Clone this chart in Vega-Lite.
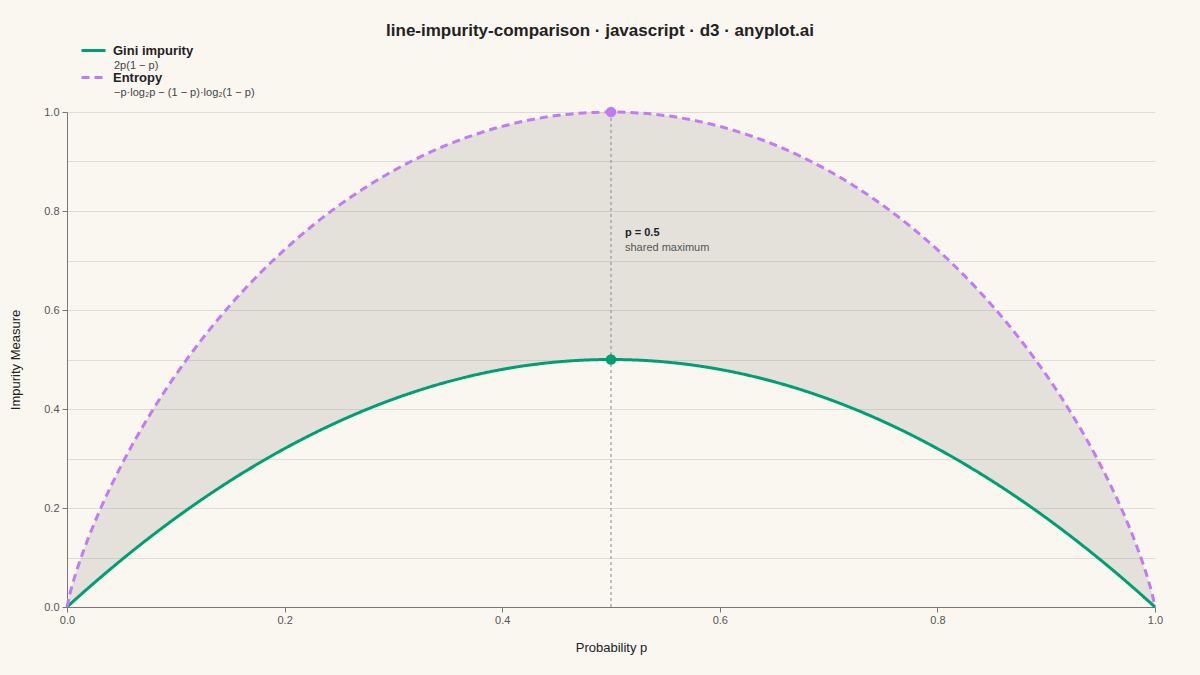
{
  "$schema": "https://vega.github.io/schema/vega-lite/v6.json",
  "width": 1088,
  "height": 495,
  "autosize": {"type": "none"},
  "padding": {"left": 67, "top": 112, "right": 45, "bottom": 68},
  "background": "#faf7f0",
  "title": {
    "text": "line-impurity-comparison · javascript · d3 · anyplot.ai",
    "anchor": "middle",
    "frame": "group",
    "dx": -11,
    "offset": -3,
    "font": "Liberation Sans",
    "fontSize": 17,
    "fontWeight": "bold",
    "color": "#222222"
  },
  "config": {
    "view": {"stroke": null},
    "font": "Liberation Sans",
    "axis": {
      "domainColor": "#777777",
      "tickColor": "#777777",
      "labelColor": "#555555",
      "labelFontSize": 11,
      "titleColor": "#222222",
      "titleFontSize": 13,
      "titleFontWeight": "normal",
      "tickSize": 5
    }
  },
  "datasets": {
    "curves": [
      {"p": 0, "Gini impurity": 0, "Entropy": 0},
      {"p": 0.0025, "Gini impurity": 0.004988, "Entropy": 0.0252},
      {"p": 0.005, "Gini impurity": 0.00995, "Entropy": 0.0454},
      {"p": 0.01, "Gini impurity": 0.0198, "Entropy": 0.0808},
      {"p": 0.02, "Gini impurity": 0.0392, "Entropy": 0.1414},
      {"p": 0.03, "Gini impurity": 0.0582, "Entropy": 0.1944},
      {"p": 0.04, "Gini impurity": 0.0768, "Entropy": 0.2423},
      {"p": 0.05, "Gini impurity": 0.095, "Entropy": 0.2864},
      {"p": 0.075, "Gini impurity": 0.13875, "Entropy": 0.3843},
      {"p": 0.1, "Gini impurity": 0.18, "Entropy": 0.469},
      {"p": 0.125, "Gini impurity": 0.21875, "Entropy": 0.5436},
      {"p": 0.15, "Gini impurity": 0.255, "Entropy": 0.6098},
      {"p": 0.175, "Gini impurity": 0.28875, "Entropy": 0.669},
      {"p": 0.2, "Gini impurity": 0.32, "Entropy": 0.7219},
      {"p": 0.225, "Gini impurity": 0.34875, "Entropy": 0.7692},
      {"p": 0.25, "Gini impurity": 0.375, "Entropy": 0.8113},
      {"p": 0.275, "Gini impurity": 0.39875, "Entropy": 0.8485},
      {"p": 0.3, "Gini impurity": 0.42, "Entropy": 0.8813},
      {"p": 0.325, "Gini impurity": 0.43875, "Entropy": 0.9097},
      {"p": 0.35, "Gini impurity": 0.455, "Entropy": 0.9341},
      {"p": 0.375, "Gini impurity": 0.46875, "Entropy": 0.9544},
      {"p": 0.4, "Gini impurity": 0.48, "Entropy": 0.971},
      {"p": 0.425, "Gini impurity": 0.48875, "Entropy": 0.9837},
      {"p": 0.45, "Gini impurity": 0.495, "Entropy": 0.9928},
      {"p": 0.475, "Gini impurity": 0.49875, "Entropy": 0.9982},
      {"p": 0.5, "Gini impurity": 0.5, "Entropy": 1},
      {"p": 0.525, "Gini impurity": 0.49875, "Entropy": 0.9982},
      {"p": 0.55, "Gini impurity": 0.495, "Entropy": 0.9928},
      {"p": 0.575, "Gini impurity": 0.48875, "Entropy": 0.9837},
      {"p": 0.6, "Gini impurity": 0.48, "Entropy": 0.971},
      {"p": 0.625, "Gini impurity": 0.46875, "Entropy": 0.9544},
      {"p": 0.65, "Gini impurity": 0.455, "Entropy": 0.9341},
      {"p": 0.675, "Gini impurity": 0.43875, "Entropy": 0.9097},
      {"p": 0.7, "Gini impurity": 0.42, "Entropy": 0.8813},
      {"p": 0.725, "Gini impurity": 0.39875, "Entropy": 0.8485},
      {"p": 0.75, "Gini impurity": 0.375, "Entropy": 0.8113},
      {"p": 0.775, "Gini impurity": 0.34875, "Entropy": 0.7692},
      {"p": 0.8, "Gini impurity": 0.32, "Entropy": 0.7219},
      {"p": 0.825, "Gini impurity": 0.28875, "Entropy": 0.669},
      {"p": 0.85, "Gini impurity": 0.255, "Entropy": 0.6098},
      {"p": 0.875, "Gini impurity": 0.21875, "Entropy": 0.5436},
      {"p": 0.9, "Gini impurity": 0.18, "Entropy": 0.469},
      {"p": 0.925, "Gini impurity": 0.13875, "Entropy": 0.3843},
      {"p": 0.95, "Gini impurity": 0.095, "Entropy": 0.2864},
      {"p": 0.96, "Gini impurity": 0.0768, "Entropy": 0.2423},
      {"p": 0.97, "Gini impurity": 0.0582, "Entropy": 0.1944},
      {"p": 0.98, "Gini impurity": 0.0392, "Entropy": 0.1414},
      {"p": 0.99, "Gini impurity": 0.0198, "Entropy": 0.0808},
      {"p": 0.995, "Gini impurity": 0.00995, "Entropy": 0.0454},
      {"p": 0.9975, "Gini impurity": 0.004988, "Entropy": 0.0252},
      {"p": 1, "Gini impurity": 0, "Entropy": 0}
    ],
    "maxima": [
      {"measure": "Gini impurity", "formula": "2p(1 − p)", "p": 0.5, "value": 0.5},
      {"measure": "Entropy", "formula": "−p·log₂p − (1 − p)·log₂(1 − p)", "p": 0.5, "value": 1}
    ]
  },
  "layer": [
    {
      "data": {"name": "curves"},
      "mark": {"type": "area", "color": "#808080", "opacity": 0.18, "interpolate": "monotone"},
      "encoding": {
        "x": {
          "field": "p",
          "type": "quantitative",
          "scale": {"domain": [0, 1], "nice": false},
          "axis": {
            "title": "Probability p",
            "values": [0, 0.2, 0.4, 0.6, 0.8, 1],
            "format": ".1f",
            "grid": false,
            "labelFlush": false,
            "labelPadding": 2,
            "titlePadding": 16
          }
        },
        "y": {
          "field": "Entropy",
          "type": "quantitative",
          "scale": {"domain": [0, 1], "nice": false},
          "axis": {
            "title": "Impurity Measure",
            "values": [0, 0.1, 0.2, 0.3, 0.4, 0.5, 0.6, 0.7, 0.8, 0.9, 1],
            "labelExpr": "round(datum.value * 10) % 2 == 0 ? format(datum.value, '.1f') : ''",
            "tickOpacity": {"condition": {"test": "round(datum.value * 10) % 2 == 0", "value": 1}, "value": 0},
            "grid": true,
            "gridColor": "#000000",
            "gridOpacity": 0.1,
            "labelFlush": false,
            "labelPadding": 3,
            "titlePadding": 21
          }
        },
        "y2": {"field": "Gini impurity"}
      }
    },
    {
      "data": {"name": "maxima"},
      "transform": [{"filter": "datum.measure == 'Entropy'"}],
      "mark": {"type": "rule", "color": "#888888", "strokeDash": [3, 3], "strokeWidth": 1},
      "encoding": {
        "x": {"field": "p", "type": "quantitative"},
        "y": {"field": "value", "type": "quantitative"},
        "y2": {"datum": 0}
      }
    },
    {
      "data": {"name": "curves"},
      "transform": [{"fold": ["Gini impurity", "Entropy"], "as": ["measure", "value"]}],
      "mark": {"type": "line", "strokeWidth": 3, "interpolate": "monotone"},
      "encoding": {
        "x": {"field": "p", "type": "quantitative"},
        "y": {"field": "value", "type": "quantitative"},
        "color": {
          "field": "measure",
          "type": "nominal",
          "scale": {"domain": ["Gini impurity", "Entropy"], "range": ["#009E73", "#C27BF5"]},
          "legend": {
            "title": null,
            "orient": "none",
            "legendX": 13,
            "legendY": -75,
            "padding": 0,
            "symbolType": "stroke",
            "symbolSize": 576,
            "symbolStrokeWidth": 3,
            "labelFontSize": 13,
            "labelFontWeight": "bold",
            "labelColor": "#222222",
            "labelOffset": 6,
            "rowPadding": 6
          }
        },
        "strokeDash": {
          "field": "measure",
          "type": "nominal",
          "scale": {"domain": ["Gini impurity", "Entropy"], "range": [[1, 0], [8, 5]]},
          "legend": {"title": null}
        }
      }
    },
    {
      "data": {"name": "maxima"},
      "mark": {"type": "point", "filled": true, "size": 110, "opacity": 1},
      "encoding": {
        "x": {"field": "p", "type": "quantitative"},
        "y": {"field": "value", "type": "quantitative"},
        "fill": {
          "field": "measure",
          "type": "nominal",
          "scale": {"domain": ["Gini impurity", "Entropy"], "range": ["#009E73", "#C27BF5"]},
          "legend": null
        },
        "shape": {
          "field": "formula",
          "type": "nominal",
          "scale": {"domain": ["2p(1 − p)", "−p·log₂p − (1 − p)·log₂(1 − p)"], "range": ["circle", "circle"]},
          "legend": {
            "title": null,
            "orient": "none",
            "legendX": 36,
            "legendY": -52,
            "padding": 0,
            "symbolOpacity": 0,
            "symbolSize": 4,
            "labelOffset": 0,
            "labelFontSize": 11,
            "labelColor": "#444444",
            "rowPadding": 15
          }
        }
      }
    },
    {
      "data": {"name": "maxima"},
      "transform": [{"filter": "datum.measure == 'Entropy'"}],
      "mark": {"type": "text", "align": "left", "dx": 14, "fontSize": 11, "fontWeight": "bold", "color": "#222222"},
      "encoding": {
        "x": {"field": "p", "type": "quantitative"},
        "y": {"datum": 0.755, "type": "quantitative"},
        "text": {"value": "p = 0.5"}
      }
    },
    {
      "data": {"name": "maxima"},
      "transform": [{"filter": "datum.measure == 'Entropy'"}],
      "mark": {"type": "text", "align": "left", "dx": 14, "fontSize": 11, "color": "#555555"},
      "encoding": {
        "x": {"field": "p", "type": "quantitative"},
        "y": {"datum": 0.725, "type": "quantitative"},
        "text": {"value": "shared maximum"}
      }
    }
  ]
}
